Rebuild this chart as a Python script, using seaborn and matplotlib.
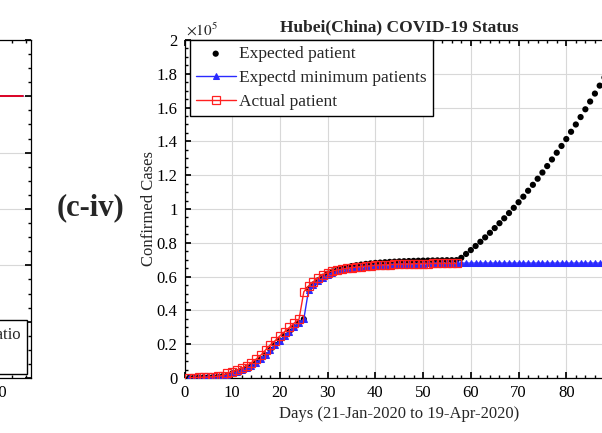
import numpy as np
import pandas as pd
import matplotlib
matplotlib.use("Agg")
import matplotlib.pyplot as plt
from matplotlib.ticker import MultipleLocator, FuncFormatter
import seaborn as sns

# Hubei confirmed cases
actual_days = np.arange(1, 58)
actual_cases = [198, 270, 375, 444, 549, 729, 1052, 1423, 2714, 3554,
                4586, 5806, 7153, 9074, 11177, 13522, 16678, 19665, 22112, 24953,
                27500, 30000, 32500, 34800, 51000, 54500, 57000, 59300, 61200, 62400,
                63300, 63900, 64400, 64900, 65300, 65600, 65900, 66200, 66400, 66600,
                66800, 67000, 67100, 67200, 67300, 67400, 67500, 67600, 67650, 67700,
                67740, 67760, 67770, 67780, 67790, 67795, 67800]

model_days = np.arange(1, 90)
min_cases = [150, 198, 270, 375, 444, 549, 729, 1052, 1423, 2714,
             3554, 4586, 5806, 7153, 9074, 11177, 13522, 16678, 19665, 22112,
             24953, 27500, 30000, 32500, 34800, 52000, 54800, 57200, 59200, 60900,
             62200, 63200, 63900, 64500, 65000, 65400, 65800, 66100, 66400, 66600,
             66800, 67000, 67150, 67300, 67400, 67500, 67600, 67650, 67700, 67750,
             67800, 67800, 67800, 67800, 67800, 67800, 67800, 68000, 68000, 68000,
             68000, 68000, 68000, 68000, 68000, 68000, 68000, 68000, 68000, 68000,
             68000, 68000, 68000, 68000, 68000, 68000, 68000, 68000, 68000, 68000,
             68000, 68000, 68000, 68000, 68000, 68000, 68000, 68000, 68000]
expected_cases = [150, 198, 270, 375, 444, 549, 729, 1052, 1423, 2714,
                  3554, 4586, 5806, 7153, 9074, 11177, 13522, 16678, 19665, 22112,
                  24953, 27500, 30000, 32500, 34800, 52500, 55300, 57800, 59900, 61700,
                  63000, 64000, 64900, 65600, 66200, 66700, 67100, 67500, 67800, 68100,
                  68300, 68500, 68700, 68850, 69000, 69100, 69200, 69300, 69400, 69450,
                  69500, 69550, 69600, 69650, 69700, 69700, 69750, 71100, 73400, 75700,
                  78100, 80600, 83200, 85900, 88700, 91600, 94500, 97600, 100700, 104000,
                  107300, 110800, 114300, 117900, 121600, 125400, 129300, 133300, 137300, 141400,
                  145700, 150000, 154400, 159000, 163600, 168300, 173000, 177800, 182800]

# neighbouring panel (only its right edge shows)
left_days = [0, 10, 20, 30, 40, 50, 60, 70, 80, 87]
left_ratio_a = [0.0, 0.15, 0.45, 0.75, 0.9, 0.96, 0.99, 1.0, 1.0, 1.0]
left_ratio_b = [0.0, 0.14, 0.44, 0.74, 0.9, 0.96, 0.99, 1.0, 1.0, 1.0]

sns.set_theme(style="whitegrid", rc={
    "axes.edgecolor": "black", "axes.linewidth": 0.9,
    "grid.color": "#d8d8d8", "grid.linewidth": 0.8,
    "xtick.direction": "in", "ytick.direction": "in",
    "xtick.bottom": True, "ytick.left": True,
    "xtick.top": True, "ytick.right": True,
    "xtick.minor.visible": True, "ytick.minor.visible": True,
    "xtick.major.size": 4, "ytick.major.size": 4,
    "xtick.minor.size": 2, "ytick.minor.size": 2,
    "xtick.color": "black", "ytick.color": "black",
})
plt.rcParams["font.family"] = ["Liberation Serif", "DejaVu Serif"]
plt.rcParams["mathtext.fontset"] = "stix"

fig = plt.figure(figsize=(6.02, 4.33), dpi=100)

# --- partial neighbouring panel ---
ax0 = fig.add_axes([-0.45, 55 / 433, 0.45 + 31 / 602, 338 / 433])
ax0.plot(left_days, left_ratio_a, color="blue", lw=1.2, label="Expected ratio")
ax0.plot(left_days, left_ratio_b, color="red", lw=1.2, label="Actual")
ax0.set_xlim(0, 89.5)
ax0.set_ylim(0, 1.2)
ax0.yaxis.set_major_locator(MultipleLocator(0.2))
ax0.yaxis.set_minor_locator(MultipleLocator(0.05))
ax0.xaxis.set_major_locator(MultipleLocator(20))
ax0.xaxis.set_minor_locator(MultipleLocator(4))
ax0.grid(axis="x", visible=False)
ax0.tick_params(labelsize=12, pad=5)
ax0.tick_params(axis="y", labelleft=False)
ax0.legend(loc="lower right", fontsize=12, frameon=True, fancybox=False,
           edgecolor="black", framealpha=1, borderaxespad=0.25)

fig.text(90 / 602, 1 - 208 / 433, "(c-iv)", fontsize=22, fontweight="bold",
         ha="center", va="center")

# --- main panel ---
ax = fig.add_axes([184.5 / 602, 55 / 433, (614 - 184.5) / 602, 338 / 433])
sns.scatterplot(x=model_days, y=expected_cases, ax=ax, color="black", s=20,
                edgecolor="none", label="Expected patient", zorder=3)
sns.lineplot(x=model_days, y=min_cases, ax=ax, color="#2a2aff", lw=1.0,
             marker="^", markersize=5, markeredgecolor="#2a2aff",
             label="Expectd minimum patients", zorder=4)
sns.lineplot(x=actual_days, y=actual_cases, ax=ax, color="#ff2020", lw=1.0,
             marker="s", markersize=6, markerfacecolor="none",
             markeredgecolor="#ff2020", markeredgewidth=0.9,
             label="Actual patient", zorder=5)

ax.set_xlim(0, 90)
ax.set_ylim(0, 200000)
ax.xaxis.set_major_locator(MultipleLocator(10))
ax.xaxis.set_minor_locator(MultipleLocator(2))
ax.yaxis.set_major_locator(MultipleLocator(20000))
ax.yaxis.set_minor_locator(MultipleLocator(5000))
ax.yaxis.set_major_formatter(FuncFormatter(lambda v, _: f"{v / 1e5:g}"))
ax.tick_params(labelsize=12, pad=5)
ax.text(0.003, 1.004, r"$\times10^5$", transform=ax.transAxes, fontsize=11,
        ha="left", va="bottom")

ax.set_title("Hubei(China) COVID-19 Status", fontsize=12.5, fontweight="bold", pad=6)
ax.set_xlabel("Days (21-Jan-2020 to 19-Apr-2020)", fontsize=12, labelpad=4)
ax.set_ylabel("Confirmed Cases", fontsize=12, labelpad=0)

ax.legend(loc="upper left", bbox_to_anchor=(0.012, 1.0), borderaxespad=0,
          fontsize=12.5, frameon=True, fancybox=False, edgecolor="black",
          framealpha=1, handlelength=2.3, handletextpad=0.2,
          labelspacing=0.45, borderpad=0.35)

fig.savefig("out.png", dpi=100)
